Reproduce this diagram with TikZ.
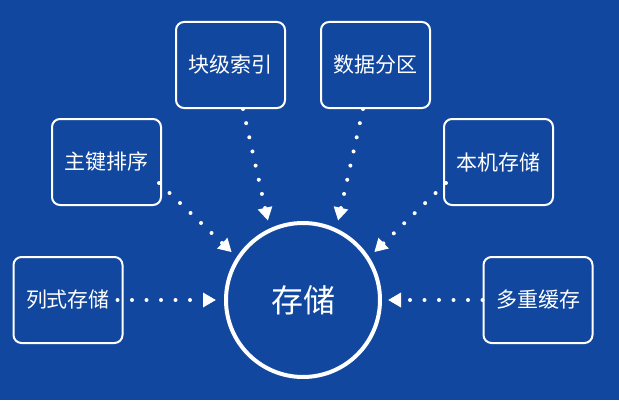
\documentclass[tikz,border=0pt]{standalone}
\usepackage{fontspec}
\setmainfont{Noto Sans CJK SC}
\definecolor{StoreBlue}{RGB}{17,71,158}
\usetikzlibrary{
    arrows.meta,
    positioning,
    calc,
}

\begin{document}
\begin{tikzpicture}[x=1pt,y=1pt,
        featbox/.style={draw=white, line width=2pt, rounded corners=8pt,
            minimum width=109pt, minimum height=86pt, inner sep=0pt,
            text=white, font=\fontsize{21}{24}\selectfont},
        hub/.style={circle, draw=white, line width=4pt, minimum size=154pt,
            inner sep=0pt, text=white, font=\fontsize{32}{36}\selectfont},
        dotlink/.style={white, line width=4pt, line cap=round,
            dash pattern=on 0pt off 14.5pt,
            -{Triangle[length=13pt,width=14pt]}},
    ]
        \fill[StoreBlue] (0,0) rectangle (619,400);
        \node[hub] (cunchu) at (303,100) {存储};
        \node[featbox] (lieshi) at (68,100) {列式存储};
        \node[featbox] (duochong) at (538,100) {多重缓存};
        \node[featbox] (zhujian) at (106.5,238) {主键排序};
        \node[featbox] (benji) at (498.5,238) {本机存储};
        \node[featbox] (kuaiji) at (230.5,335) {块级索引};
        \node[featbox] (shuju) at (375.5,335) {数据分区};
        \draw[dotlink, shorten >=8pt] ([xshift=-6pt]lieshi.east) -- (cunchu.west);
        \draw[dotlink, shorten >=6pt] (duochong.west) -- (cunchu.east);
        \draw[dotlink, shorten >=7pt] ([yshift=-21pt,xshift=-3pt]zhujian.east) -- (cunchu.147);
        \draw[dotlink, shorten >=7pt] ([yshift=-21pt,xshift=3pt]benji.west) -- (cunchu.33);
        \draw[dotlink, shorten >=8pt] ([xshift=12.5pt]kuaiji.south) -- (cunchu.115);
        \draw[dotlink, shorten >=8pt] ([xshift=-12.5pt]shuju.south) -- (cunchu.65);
    \end{tikzpicture}
\end{document}
